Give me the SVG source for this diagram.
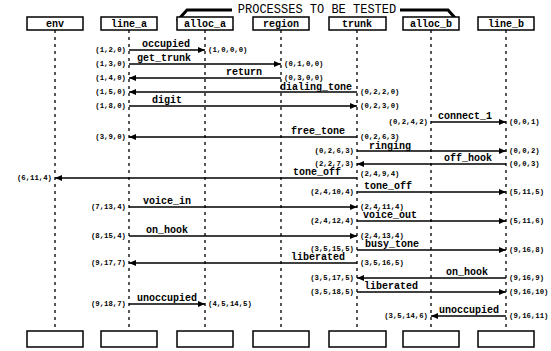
<svg xmlns="http://www.w3.org/2000/svg" width="551" height="351" viewBox="0 0 551 351">
<style>
.box{fill:#fff;stroke:#000;stroke-width:1.5}
.bl{font-family:"Liberation Mono","DejaVu Sans Mono",monospace;font-size:10px;font-weight:bold;text-anchor:middle}
.life{stroke:#000;stroke-width:1.3;stroke-dasharray:3,4;fill:none}
.msg{stroke:#000;stroke-width:1.4;fill:none;marker-end:url(#ah)}
.ml{font-family:"Liberation Mono","DejaVu Sans Mono",monospace;font-size:10px;font-weight:bold;text-anchor:middle}
.st{font-family:"Liberation Mono","DejaVu Sans Mono",monospace;font-size:7.3px;font-weight:bold}
.l{text-anchor:end}
.title{font-family:"Liberation Mono","DejaVu Sans Mono",monospace;font-size:12px;text-anchor:middle}
.brk{stroke:#000;stroke-width:3;fill:none}
</style>
<defs>
<marker id="ah" markerUnits="userSpaceOnUse" markerWidth="7" markerHeight="6" refX="7" refY="3" orient="auto">
<path d="M0,0 L7,3 L0,6 z" fill="#000"/>
</marker>
</defs>
<g id="title">
<polyline class="brk" points="177,21 187,10 232,10"/>
<text class="title" x="317" y="13">PROCESSES TO BE TESTED</text>
<polyline class="brk" points="400,10 448,10 457,20"/>
</g>
<g id="lifelines">
<line class="life" x1="55" y1="30" x2="55" y2="331"/>
<line class="life" x1="129" y1="30" x2="129" y2="331"/>
<line class="life" x1="205" y1="30" x2="205" y2="331"/>
<line class="life" x1="281" y1="30" x2="281" y2="331"/>
<line class="life" x1="357" y1="30" x2="357" y2="331"/>
<line class="life" x1="431" y1="30" x2="431" y2="331"/>
<line class="life" x1="506" y1="30" x2="506" y2="331"/>
</g>
<g id="env"><rect class="box" x="27" y="17" width="56" height="13"/><text class="bl" x="55" y="27">env</text><rect class="box" x="27" y="331" width="56" height="16"/></g>
<g id="line_a"><rect class="box" x="101" y="17" width="56" height="13"/><text class="bl" x="129" y="27">line_a</text><rect class="box" x="101" y="331" width="56" height="16"/></g>
<g id="alloc_a"><rect class="box" x="177" y="17" width="56" height="13"/><text class="bl" x="205" y="27">alloc_a</text><rect class="box" x="177" y="331" width="56" height="16"/></g>
<g id="region"><rect class="box" x="253" y="17" width="56" height="13"/><text class="bl" x="281" y="27">region</text><rect class="box" x="253" y="331" width="56" height="16"/></g>
<g id="trunk"><rect class="box" x="329" y="17" width="57" height="13"/><text class="bl" x="357" y="27">trunk</text><rect class="box" x="329" y="331" width="57" height="16"/></g>
<g id="alloc_b"><rect class="box" x="403" y="17" width="56" height="13"/><text class="bl" x="431" y="27">alloc_b</text><rect class="box" x="403" y="331" width="56" height="16"/></g>
<g id="line_b"><rect class="box" x="478" y="17" width="56" height="13"/><text class="bl" x="506" y="27">line_b</text><rect class="box" x="478" y="331" width="56" height="16"/></g>
<g id="connectors">
<line class="msg" x1="129" y1="50" x2="205" y2="50"/>
<line class="msg" x1="129" y1="64" x2="281" y2="64"/>
<line class="msg" x1="281" y1="78" x2="129" y2="78"/>
<line class="msg" x1="357" y1="92" x2="129" y2="92"/>
<line class="msg" x1="129" y1="106" x2="357" y2="106"/>
<line class="msg" x1="431" y1="122" x2="506" y2="122"/>
<line class="msg" x1="357" y1="137" x2="129" y2="137"/>
<line class="msg" x1="357" y1="151" x2="506" y2="151"/>
<line class="msg" x1="506" y1="164" x2="357" y2="164"/>
<line class="msg" x1="357" y1="178" x2="55" y2="178"/>
<line class="msg" x1="357" y1="192" x2="506" y2="192"/>
<line class="msg" x1="129" y1="207" x2="357" y2="207"/>
<line class="msg" x1="357" y1="221" x2="506" y2="221"/>
<line class="msg" x1="129" y1="236" x2="357" y2="236"/>
<line class="msg" x1="357" y1="250" x2="506" y2="250"/>
<line class="msg" x1="357" y1="263" x2="129" y2="263"/>
<line class="msg" x1="506" y1="278" x2="357" y2="278"/>
<line class="msg" x1="357" y1="292" x2="506" y2="292"/>
<line class="msg" x1="129" y1="304" x2="205" y2="304"/>
<line class="msg" x1="506" y1="316" x2="431" y2="316"/>
</g>
<g id="message-labels">
<text class="ml" x="166" y="47">occupied</text>
<text class="ml" x="164" y="61">get_trunk</text>
<text class="ml" x="244" y="75">return</text>
<text class="ml" x="316" y="89.5">dialing_tone</text>
<text class="ml" x="167" y="103">digit</text>
<text class="ml" x="465" y="119">connect_1</text>
<text class="ml" x="318" y="134">free_tone</text>
<text class="ml" x="390" y="148.5">ringing</text>
<text class="ml" x="468" y="161">off_hook</text>
<text class="ml" x="317" y="175">tone_off</text>
<text class="ml" x="388" y="189">tone_off</text>
<text class="ml" x="167" y="204">voice_in</text>
<text class="ml" x="390" y="218">voice_out</text>
<text class="ml" x="167" y="233">on_hook</text>
<text class="ml" x="392" y="247">busy_tone</text>
<text class="ml" x="318" y="260">liberated</text>
<text class="ml" x="467" y="275">on_hook</text>
<text class="ml" x="391" y="289">liberated</text>
<text class="ml" x="167" y="301">unoccupied</text>
<text class="ml" x="469" y="313">unoccupied</text>
</g>
<g id="state-labels">
<text class="st l" x="126" y="52">(1,2,0)</text>
<text class="st" x="208" y="52">(1,0,0,0)</text>
<text class="st l" x="126" y="66">(1,3,0)</text>
<text class="st" x="284" y="66">(0,1,0,0)</text>
<text class="st l" x="126" y="80">(1,4,0)</text>
<text class="st" x="284" y="79.5">(0,3,0,0)</text>
<text class="st l" x="126" y="94">(1,5,0)</text>
<text class="st" x="360" y="94">(0,2,2,0)</text>
<text class="st l" x="126" y="108">(1,8,0)</text>
<text class="st" x="360" y="108">(0,2,3,0)</text>
<text class="st l" x="428" y="124">(0,2,4,2)</text>
<text class="st" x="509" y="124">(0,0,1)</text>
<text class="st l" x="126" y="139">(3,9,0)</text>
<text class="st" x="360" y="138.5">(0,2,6,3)</text>
<text class="st l" x="354" y="153">(0,2,6,3)</text>
<text class="st" x="509" y="153">(0,0,2)</text>
<text class="st l" x="354" y="166">(2,2,7,3)</text>
<text class="st" x="509" y="166">(0,0,3)</text>
<text class="st l" x="52" y="180">(6,11,4)</text>
<text class="st" x="360" y="176">(2,4,9,4)</text>
<text class="st l" x="354" y="194">(2,4,10,4)</text>
<text class="st" x="509" y="194">(5,11,5)</text>
<text class="st l" x="126" y="209">(7,13,4)</text>
<text class="st" x="360" y="209">(2,4,11,4)</text>
<text class="st l" x="354" y="223">(2,4,12,4)</text>
<text class="st" x="509" y="223">(5,11,6)</text>
<text class="st l" x="126" y="238">(8,15,4)</text>
<text class="st" x="360" y="238">(2,4,13,4)</text>
<text class="st l" x="354" y="251">(3,5,15,5)</text>
<text class="st" x="509" y="252">(9,16,8)</text>
<text class="st l" x="126" y="265">(9,17,7)</text>
<text class="st" x="360" y="265">(3,5,16,5)</text>
<text class="st l" x="354" y="280">(3,5,17,5)</text>
<text class="st" x="509" y="280">(9,16,9)</text>
<text class="st l" x="354" y="294">(3,5,18,5)</text>
<text class="st" x="509" y="294">(9,16,10)</text>
<text class="st l" x="126" y="306">(9,18,7)</text>
<text class="st" x="208" y="306">(4,5,14,5)</text>
<text class="st l" x="428" y="318">(3,5,14,6)</text>
<text class="st" x="509" y="318">(9,16,11)</text>
</g>
</svg>
